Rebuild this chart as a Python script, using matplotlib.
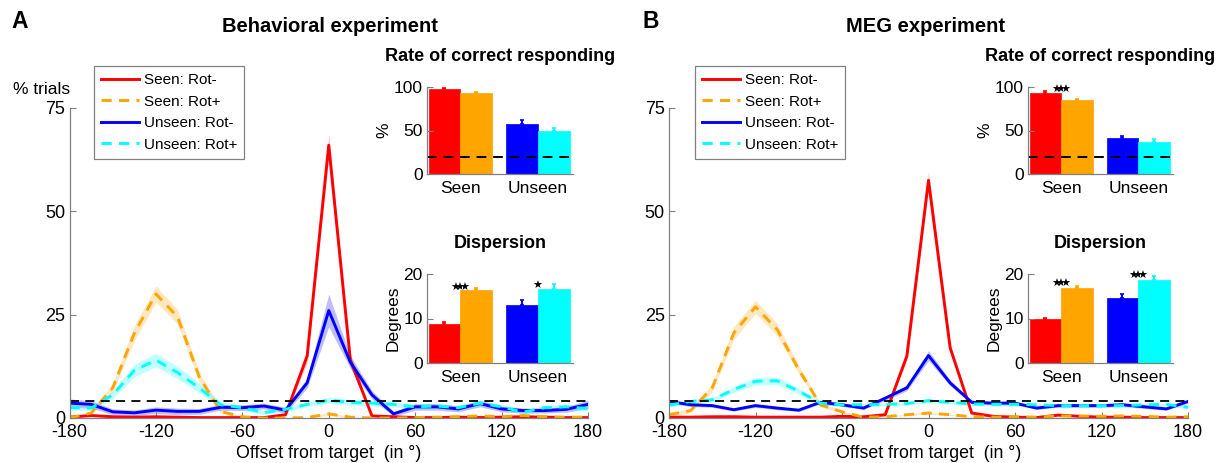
import numpy as np
import matplotlib
matplotlib.use('Agg')
import matplotlib.pyplot as plt

plt.rcParams['font.family'] = ['Liberation Sans', 'DejaVu Sans']

W, H = 1219, 463

offsets = [-180, -165, -150, -135, -120, -105, -90, -75, -60, -45, -30, -15, 0,
           15, 30, 45, 60, 75, 90, 105, 120, 135, 150, 165, 180]
xticks = [-180, -120, -60, 0, 60, 120, 180]
yticks = [0, 25, 50, 75]
chance_pct = 4
rate_chance = 20

labels = ['Seen: Rot-', 'Seen: Rot+', 'Unseen: Rot-', 'Unseen: Rot+']
colors = ['#ff0000', '#ffa500', '#0000ff', '#00ffff']
styles = ['-', '--', '-', '--']
groups = ['Seen', 'Unseen']

# behavioral experiment
beh_seen_rotm = [0.2, 0.6, 0.3, 0.2, 0.3, 0.2, 0.1, 0.1, 0.1, 0.1, 0.8, 15, 66,
                 14, 0.5, 0.3, 0.1, 0.1, 0.2, 0.1, 0.2, 0.3, 0.2, 0.1, 0.1]
beh_seen_rotp = [0, 1.2, 7.3, 20.5, 30, 24.5, 10, 1.6, 0.3, 0, 0, 0.1, 1,
                 0.2, 0, 0, 0.1, 0.2, 0.3, 0.5, 0.3, 0.6, 0.3, 0.2, 0.2]
beh_unseen_rotm = [3.6, 3.3, 1.5, 1.25, 1.9, 1.6, 1.6, 2.6, 2.5, 2.9, 1.9, 8.5, 26,
                   13.5, 5.6, 1.0, 2.7, 2.7, 2.2, 3.5, 2.2, 1.8, 1.8, 2.1, 3.3]
beh_unseen_rotp = [2.5, 2.4, 5.6, 11.5, 14, 11, 7.3, 3.2, 2.5, 1.3, 2.1, 3.3, 4.3,
                   3.8, 3.6, 3.3, 2.7, 2.9, 2.5, 3.6, 2.7, 1.4, 2.5, 2.7, 2.3]
beh_seen_rotm_sem = [0.1, 0.2, 0.1, 0.1, 0.1, 0.1, 0.1, 0.1, 0.1, 0.1, 0.3, 1.5, 2.5,
                     1.5, 0.2, 0.1, 0.1, 0.1, 0.1, 0.1, 0.1, 0.1, 0.1, 0.1, 0.1]
beh_seen_rotp_sem = [0.1, 0.4, 1.0, 1.8, 2.0, 1.8, 1.2, 0.5, 0.2, 0.1, 0.1, 0.1, 0.4,
                     0.1, 0.1, 0.1, 0.1, 0.1, 0.2, 0.2, 0.2, 0.2, 0.2, 0.1, 0.1]
beh_unseen_rotm_sem = [1.0, 0.9, 0.7, 0.7, 0.8, 0.8, 0.7, 0.7, 0.7, 0.7, 0.7, 1.2, 4.0,
                       1.5, 1.0, 0.6, 0.8, 0.8, 0.7, 0.8, 0.7, 0.6, 0.6, 0.7, 1.0]
beh_unseen_rotp_sem = [0.6, 0.6, 0.9, 1.5, 1.6, 1.5, 1.1, 0.7, 0.6, 0.5, 0.6, 0.6, 0.7,
                       0.7, 0.7, 0.6, 0.6, 0.6, 0.6, 0.6, 0.6, 0.5, 0.6, 0.6, 0.6]
beh_rate = [98, 93, 57, 49]
beh_rate_err = [0.7, 1.2, 4.5, 4.0]
beh_disp = [8.8, 16.3, 13.1, 16.6]
beh_disp_err = [0.45, 0.6, 1.1, 1.2]

# MEG experiment
meg_seen_rotm = [0.2, 0.2, 0.3, 0.3, 0.2, 0.2, 0.2, 0.2, 0.4, 0.3, 0.8, 15, 57.5,
                 17, 1.2, 0.4, 0.2, 0.1, 0.7, 0.4, 0.2, 0.2, 0.1, 0.1, 0.1]
meg_seen_rotp = [0.8, 1.8, 7.3, 20.6, 26.9, 21.4, 11.7, 3.2, 1.5, 0.2, 0.3, 0.8, 1.2,
                 0.8, 0.3, 0.2, 0.3, 0.2, 0.5, 0.5, 0.4, 0.5, 0.4, 0.2, 0.3]
meg_unseen_rotm = [4.0, 3.2, 3.0, 2.0, 3.0, 2.4, 1.9, 3.8, 3.2, 2.4, 4.8, 7.3, 15.1,
                   8.5, 3.8, 3.6, 3.6, 2.4, 3.0, 3.0, 3.0, 3.2, 2.7, 2.2, 4.0]
meg_unseen_rotp = [3.1, 4.0, 4.4, 6.9, 8.9, 9.0, 6.5, 3.6, 3.2, 3.2, 3.3, 3.5, 4.2,
                   3.8, 3.4, 3.3, 3.3, 3.2, 3.0, 3.0, 3.0, 3.0, 3.2, 3.3, 2.6]
meg_seen_rotm_sem = [0.1, 0.1, 0.1, 0.1, 0.1, 0.1, 0.1, 0.1, 0.1, 0.1, 0.3, 1.0, 2.0,
                     1.0, 0.3, 0.1, 0.1, 0.1, 0.1, 0.1, 0.1, 0.1, 0.1, 0.1, 0.1]
meg_seen_rotp_sem = [0.3, 0.5, 1.0, 1.5, 1.6, 1.5, 1.0, 0.5, 0.3, 0.1, 0.1, 0.2, 0.3,
                     0.2, 0.1, 0.1, 0.1, 0.1, 0.2, 0.2, 0.1, 0.1, 0.1, 0.1, 0.1]
meg_unseen_rotm_sem = [0.4, 0.4, 0.4, 0.3, 0.4, 0.4, 0.3, 0.4, 0.4, 0.3, 0.5, 0.7, 1.2,
                       0.7, 0.4, 0.4, 0.4, 0.3, 0.4, 0.4, 0.4, 0.4, 0.4, 0.3, 0.4]
meg_unseen_rotp_sem = [0.4, 0.5, 0.5, 0.7, 0.9, 0.9, 0.7, 0.4, 0.4, 0.4, 0.4, 0.4, 0.5,
                       0.4, 0.4, 0.4, 0.4, 0.4, 0.4, 0.4, 0.4, 0.4, 0.4, 0.4, 0.4]
meg_rate = [93.5, 84.5, 41, 37]
meg_rate_err = [1.5, 2.0, 2.5, 3.0]
meg_disp = [9.8, 16.9, 14.5, 18.7]
meg_disp_err = [0.25, 0.5, 1.1, 0.9]

GRAY = '#808080'


def box(x0, y0, x1, y1):
    # pixel box (top-left origin) -> figure fraction
    return [x0 / W, 1 - y1 / H, (x1 - x0) / W, (y1 - y0) / H]


def style_axes(ax, size=12.5):
    for s in ['top', 'right']:
        ax.spines[s].set_visible(False)
    for s in ['left', 'bottom']:
        ax.spines[s].set_color(GRAY)
        ax.spines[s].set_linewidth(0.9)
    ax.tick_params(direction='in', length=4, width=0.8, color=GRAY,
                   labelsize=size, pad=3)


def star_text(n):
    # overlapping filled stars, like the significance marks of the original
    return '$' + r'\!\!\!'.join([r'\bigstar'] * n) + '$'


def main_panel(ax, series, sems, legend_box):
    x = np.array(offsets)
    lines = []
    for y, e, c in zip(series, sems, colors):
        y, e = np.array(y), np.array(e)
        ax.fill_between(x, y - e, y + e, color=c, alpha=0.25, lw=0)
    for y, c, ls, lab in zip(series, colors, styles, labels):
        ln, = ax.plot(x, y, color=c, ls=ls, lw=2.1, label=lab,
                      dashes=(3.5, 2.5) if ls == '--' else (None, None))
        lines.append(ln)
    ax.axhline(chance_pct, color='k', ls='--', lw=1.3, dashes=(5, 3.5))
    ax.set_xlim(-180, 180)
    ax.set_ylim(0, 75)
    ax.set_xticks(xticks)
    ax.set_yticks(yticks)
    ax.set_xticklabels([str(t) for t in xticks])
    style_axes(ax, 13)
    ax.tick_params(axis='x', pad=4.5)
    ax.set_xlabel('Offset from target  (in °)', fontsize=12.8, labelpad=3)
    x0, y0 = legend_box
    leg = ax.legend(handles=lines, loc='upper left',
                    bbox_to_anchor=(x0 / W, 1 - y0 / H),
                    bbox_transform=plt.gcf().transFigure, borderaxespad=0,
                    fancybox=False, framealpha=1, edgecolor=GRAY,
                    fontsize=11, handlelength=2.5, handletextpad=0.3,
                    labelspacing=0.5, borderpad=0.45)
    leg.get_frame().set_linewidth(0.9)


def bar_panel(ax, vals, errs, ylim, yt, ylabel, title, chance=None, stars=()):
    xs = [1 - 0.205, 1 + 0.205, 2 - 0.205, 2 + 0.205]
    ax.bar(xs, vals, width=0.41, color=colors, edgecolor=colors, lw=0.5)
    for xi, v, e, c in zip(xs, vals, errs, colors):
        ax.errorbar([xi], [v], yerr=[[0], [e]], fmt='none', ecolor=c,
                    elinewidth=1.5, capsize=1.5, capthick=1.2)
    if chance is not None:
        ax.axhline(chance, color='k', ls='--', lw=1.4, dashes=(5, 3.5))
    for sx, sy, n in stars:
        ax.text(sx, sy, star_text(n), ha='center', va='center', fontsize=8,
                color='k')
    ax.set_xlim(0.57, 2.45)
    ax.set_ylim(*ylim)
    ax.set_yticks(yt)
    ax.set_xticks([1, 2])
    ax.set_xticklabels(groups)
    style_axes(ax, 12.5)
    ax.tick_params(axis='x', length=0, pad=5)
    ax.set_ylabel(ylabel, fontsize=12.5, labelpad=2)
    ax.set_title(title, fontsize=13, fontweight='bold', pad=19)


fig = plt.figure(figsize=(W / 100, H / 100), dpi=100)

ax1 = fig.add_axes(box(69.5, 108, 588, 418))
main_panel(ax1, [beh_seen_rotm, beh_seen_rotp, beh_unseen_rotm, beh_unseen_rotp],
           [beh_seen_rotm_sem, beh_seen_rotp_sem, beh_unseen_rotm_sem, beh_unseen_rotp_sem],
           (94, 66))
ax2 = fig.add_axes(box(669, 108, 1188, 418))
main_panel(ax2, [meg_seen_rotm, meg_seen_rotp, meg_unseen_rotm, meg_unseen_rotp],
           [meg_seen_rotm_sem, meg_seen_rotp_sem, meg_unseen_rotm_sem, meg_unseen_rotp_sem],
           (695, 66))

ins1 = fig.add_axes(box(427, 87, 573, 174))
bar_panel(ins1, beh_rate, beh_rate_err, (0, 100), [0, 50, 100], '%',
          'Rate of correct responding', chance=rate_chance)
ins2 = fig.add_axes(box(427, 274, 573, 363))
bar_panel(ins2, beh_disp, beh_disp_err, (0, 20), [0, 10, 20], 'Degrees',
          'Dispersion', stars=[(1, 17.3, 3), (2, 17.6, 1)])
ins3 = fig.add_axes(box(1028, 87, 1173, 174))
bar_panel(ins3, meg_rate, meg_rate_err, (0, 100), [0, 50, 100], '%',
          'Rate of correct responding', chance=rate_chance,
          stars=[(1, 98, 3)])
ins4 = fig.add_axes(box(1028, 274, 1173, 363))
bar_panel(ins4, meg_disp, meg_disp_err, (0, 20), [0, 10, 20], 'Degrees',
          'Dispersion', stars=[(1, 18.0, 3), (2, 19.8, 3)])

# panel titles and letters
fig.text(330 / W, 1 - 27 / H, 'Behavioral experiment', ha='center', va='center',
         fontsize=14.5, fontweight='bold')
fig.text(925 / W, 1 - 27 / H, 'MEG experiment', ha='center', va='center',
         fontsize=14.5, fontweight='bold')
fig.text(20 / W, 1 - 22 / H, 'A', ha='center', va='center', fontsize=16.5,
         fontweight='bold')
fig.text(651 / W, 1 - 22 / H, 'B', ha='center', va='center', fontsize=16.5,
         fontweight='bold')
fig.text(42 / W, 1 - 89 / H, '% trials', ha='center', va='center', fontsize=12.5)

fig.savefig('out.png', dpi=100)
